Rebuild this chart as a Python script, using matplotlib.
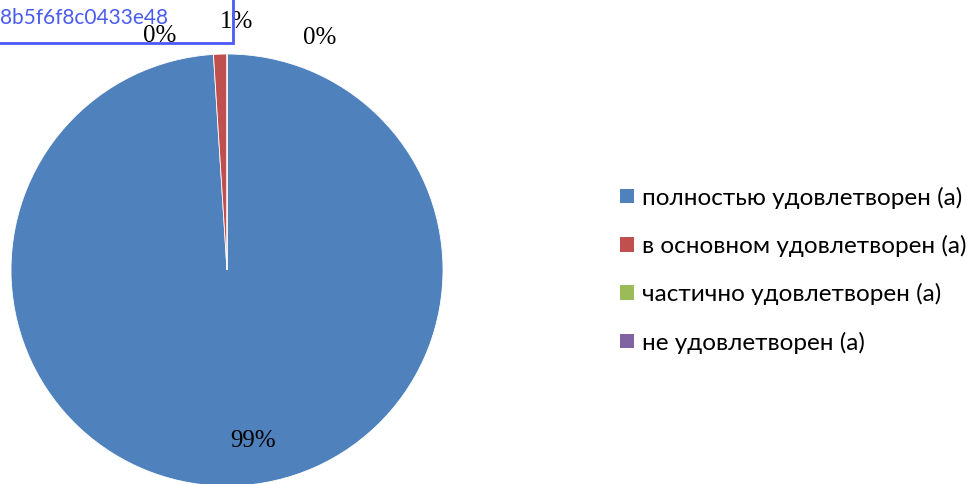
import matplotlib
matplotlib.use('Agg')
import matplotlib.pyplot as plt
from matplotlib.patches import Rectangle, Patch

categories = ['полностью удовлетворен (а)', 'в основном удовлетворен (а)',
              'частично удовлетворен (а)', 'не удовлетворен (а)']
values = [99, 1, 0, 0]
pct_labels = ['99%', '1%', '0%', '0%']
colors = ['#4F81BD', '#C0504D', '#9BBB59', '#8064A2']

# label positions in pie data units (Excel put them by hand)
label_pos = [(0.12, -0.79), (0.045, 1.15), (-0.31, 1.085), (0.43, 1.075)]

W, H = 977, 484
fig = plt.figure(figsize=(W / 100, H / 100), dpi=100)

# pie: centre (227, 270) px, radius 216 px
cx, cy, r = 227, 270, 216
ax = fig.add_axes([(cx - r) / W, (H - cy - r) / H, 2 * r / W, 2 * r / H])
ax.pie(values, colors=colors, startangle=90, counterclock=False, radius=1,
       wedgeprops=dict(edgecolor='white', linewidth=0.6))
ax.set_xlim(-1, 1)
ax.set_ylim(-1, 1)
ax.set_aspect('equal')
ax.axis('off')

for (x, y), t in zip(label_pos, pct_labels):
    ax.text(x, y, t, ha='center', va='center', fontsize=18,
            family='Liberation Serif', color='black', clip_on=False)

# legend
handles = [Patch(facecolor=c, edgecolor='none') for c in colors]
fig.legend(handles, categories, loc='center left', bbox_to_anchor=(608 / W, 1 - 270 / H),
           frameon=False, prop={'family': 'Lato', 'size': 17.5}, borderpad=0,
           handlelength=0.55, handleheight=0.55, handletextpad=0.33, labelspacing=1.08)

# stray blue text box in the top-left corner
fig.patches.append(Rectangle((-0.01, 1 - 43 / H), 233 / W + 0.01, 43 / H + 0.02,
                             transform=fig.transFigure, fill=False,
                             edgecolor='#4a5af5', linewidth=2))
fig.text(0, 1 - 18 / H, '8b5f6f8c0433e48', ha='left', va='center',
         fontsize=15, family='Lato', color='#4a5cf0')

fig.savefig('out.png', dpi=100)
